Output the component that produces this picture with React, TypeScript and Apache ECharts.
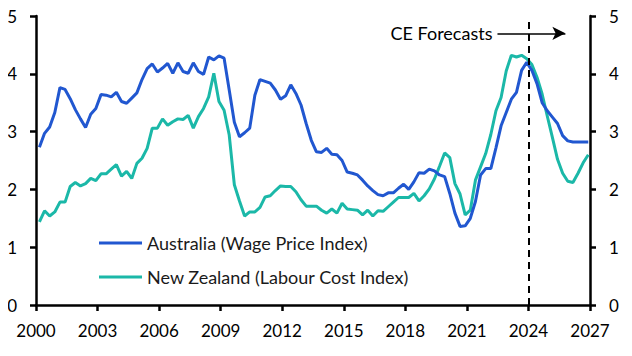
import { useEffect, useRef } from "react";
import * as echarts from "echarts";

// Quarterly data, 2000 Q1 .. 2026 Q4 (actuals to 2023 Q4, CE forecasts after)
const startYear = 2000;
const endYear = 2027;
const forecastYear = 2024;

const australia = [
  2.73, 2.97, 3.08, 3.33, 3.76, 3.73, 3.57, 3.38, 3.22, 3.07,
  3.30, 3.40, 3.64, 3.63, 3.60, 3.68, 3.52, 3.49, 3.58, 3.67,
  3.90, 4.09, 4.17, 4.03, 4.10, 4.18, 4.01, 4.19, 4.04, 4.01,
  4.19, 4.04, 3.99, 4.29, 4.24, 4.31, 4.27, 3.72, 3.16, 2.91,
  2.98, 3.06, 3.63, 3.90, 3.87, 3.84, 3.72, 3.56, 3.62, 3.81,
  3.66, 3.46, 3.14, 2.85, 2.65, 2.64, 2.71, 2.61, 2.60, 2.50,
  2.30, 2.28, 2.25, 2.16, 2.06, 1.98, 1.91, 1.89, 1.94, 1.94,
  2.02, 2.09, 2.00, 2.13, 2.29, 2.28, 2.35, 2.32, 2.25, 2.22,
  1.93, 1.59, 1.36, 1.37, 1.50, 1.79, 2.25, 2.36, 2.36, 2.72,
  3.10, 3.33, 3.56, 3.68, 4.06, 4.20, 4.06, 3.83, 3.50, 3.36,
  3.25, 3.14, 2.93, 2.84, 2.82, 2.82, 2.82, 2.82,
];

const newZealand = [
  1.44, 1.63, 1.54, 1.61, 1.78, 1.78, 2.05, 2.12, 2.06, 2.10,
  2.19, 2.15, 2.27, 2.27, 2.35, 2.43, 2.23, 2.31, 2.19, 2.45,
  2.54, 2.71, 3.06, 3.06, 3.22, 3.11, 3.17, 3.22, 3.21, 3.28,
  3.06, 3.26, 3.40, 3.60, 4.01, 3.52, 3.37, 2.94, 2.08, 1.80,
  1.54, 1.61, 1.61, 1.69, 1.87, 1.89, 1.98, 2.06, 2.05, 2.05,
  1.96, 1.82, 1.71, 1.71, 1.71, 1.64, 1.59, 1.66, 1.59, 1.76,
  1.66, 1.65, 1.64, 1.56, 1.64, 1.54, 1.63, 1.62, 1.70, 1.78,
  1.86, 1.86, 1.86, 1.93, 1.80, 1.89, 2.01, 2.18, 2.40, 2.63,
  2.55, 2.10, 1.92, 1.56, 1.64, 2.16, 2.39, 2.62, 2.95, 3.36,
  3.59, 4.05, 4.32, 4.29, 4.32, 4.26, 4.16, 3.94, 3.65, 3.27,
  2.90, 2.52, 2.28, 2.14, 2.12, 2.28, 2.46, 2.60,
];

const seriesNames = ["Australia (Wage Price Index)", "New Zealand (Labour Cost Index)"];
const seriesColors = ["#2157D0", "#1BB8A8"];
const forecastLabel = "CE Forecasts";

// quarter labels, e.g. "2000 Q1"
const quarters: string[] = [];
for (let y = startYear; y < endYear; y++) {
  for (let q = 1; q <= 4; q++) quarters.push(`${y} Q${q}`);
}
// plotted at the last month of each quarter
const quarterToTime = (label: string) => {
  const [y, q] = label.split(" Q");
  return Number(y) + (Number(q) - 1) / 4 + 1 / 6;
};

const FONT = "Lato, 'Noto Sans', sans-serif";

export default function App() {
  const ref = useRef<HTMLDivElement>(null);
  useEffect(() => {
    if (!ref.current) return;
    const chart = echarts.init(ref.current, undefined, { renderer: "svg" });
    const toPairs = (vals: number[]) => vals.map((v, i) => [quarterToTime(quarters[i]), v]);
    const axisCommon = {
      axisLine: { show: true, lineStyle: { color: "#000", width: 2.5 } },
      axisTick: { show: true, length: 6, lineStyle: { color: "#000", width: 2.5 } },
      splitLine: { show: false },
      axisLabel: { color: "#000", fontSize: 17, fontFamily: FONT },
    };
    chart.setOption({
      animation: false,
      textStyle: { fontFamily: FONT },
      grid: { left: 36, right: 42, top: 16, bottom: 51, containLabel: false },
      legend: {
        data: seriesNames,
        orient: "vertical",
        left: 94,
        top: 229,
        itemGap: 16,
        itemWidth: 43,
        itemHeight: 3,
        icon: "rect",
        textStyle: { color: "#1a1a1a", fontSize: 18, fontFamily: FONT },
      },
      xAxis: {
        type: "value",
        min: startYear,
        max: endYear,
        interval: 3,
        ...axisCommon,
        axisLabel: { ...axisCommon.axisLabel, margin: 17, formatter: (v: number) => String(v) },
      },
      yAxis: [
        {
          type: "value",
          min: 0,
          max: 5,
          interval: 1,
          position: "left",
          ...axisCommon,
          axisLabel: { ...axisCommon.axisLabel, margin: 19 },
        },
        {
          type: "value",
          min: 0,
          max: 5,
          interval: 1,
          position: "right",
          ...axisCommon,
          axisLabel: { ...axisCommon.axisLabel, margin: 19 },
        },
      ],
      series: [
        {
          name: seriesNames[0],
          type: "line",
          data: toPairs(australia),
          showSymbol: false,
          symbol: "none",
          lineStyle: { color: seriesColors[0], width: 3 },
          itemStyle: { color: seriesColors[0] },
          z: 3,
          markLine: {
            silent: true,
            symbol: "none",
            animation: false,
            data: [
              [
                { coord: [forecastYear, 0], lineStyle: { type: [7, 5], color: "#000", width: 2 }, label: { show: false } },
                { coord: [forecastYear, 4.95] },
              ],
              [
                {
                  coord: [2022.49, 4.7],
                  symbol: "none",
                  lineStyle: { type: "solid", color: "#000", width: 1.5 },
                  label: {
                    show: true,
                    position: "start",
                    formatter: forecastLabel,
                    color: "#000",
                    fontSize: 18,
                    fontFamily: FONT,
                    distance: 5,
                    padding: [0, 0, 10, 0],
                  },
                },
                { coord: [2025.8, 4.7], symbol: "arrow", symbolSize: [10, 13] },
              ],
            ],
          },
        },
        {
          name: seriesNames[1],
          type: "line",
          data: toPairs(newZealand),
          showSymbol: false,
          symbol: "none",
          lineStyle: { color: seriesColors[1], width: 3 },
          itemStyle: { color: seriesColors[1] },
          z: 2,
        },
      ],
    });
    return () => chart.dispose();
  }, []);
  return <div ref={ref} style={{ width: 632, height: 356, marginLeft: -8, marginTop: -8 }} />;
}
